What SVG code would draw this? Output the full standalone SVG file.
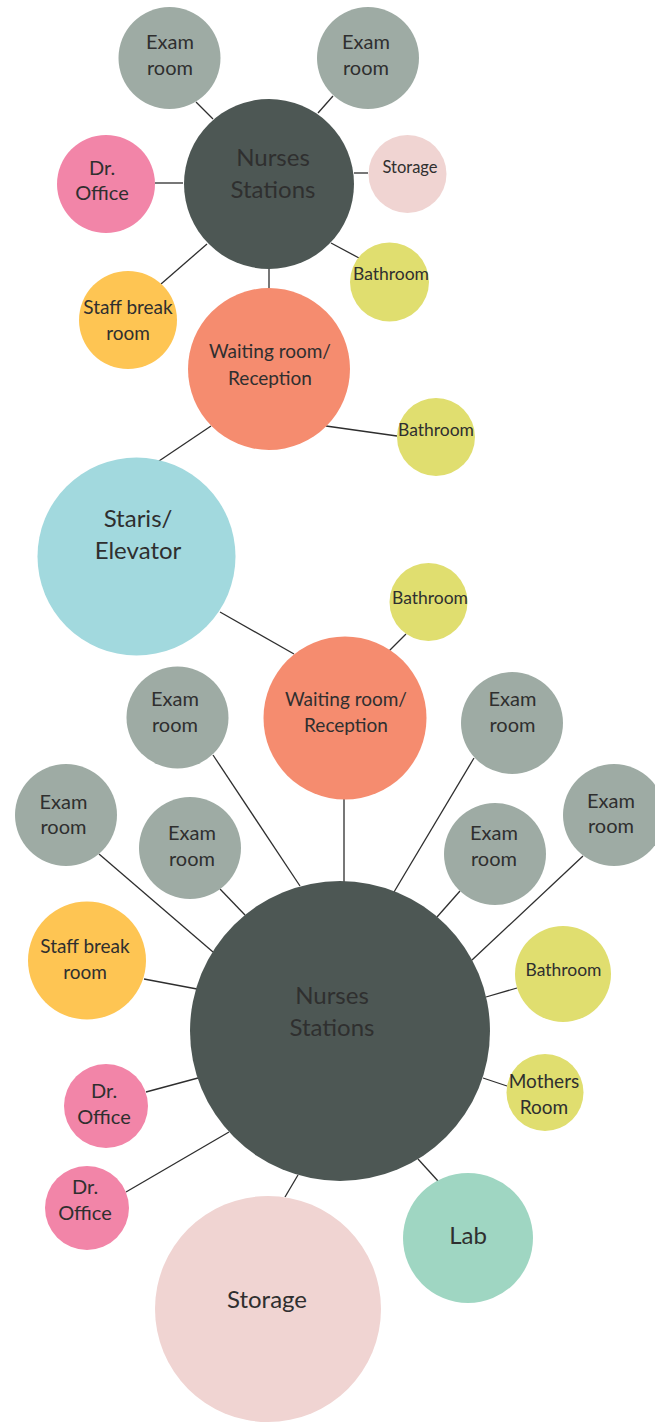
<svg xmlns="http://www.w3.org/2000/svg" width="655" height="1422" viewBox="0 0 655 1422">
<style>
text{font-family:Lato,"Noto Sans",sans-serif;fill:#2f2f2f;text-anchor:middle}
.c-exam{fill:#9eaba4}
.c-nurse{fill:#4d5754}
.c-dr{fill:#f285a8}
.c-stor{fill:#f0d4d2}
.c-bath{fill:#e0de6f}
.c-staff{fill:#fec553}
.c-wait{fill:#f58c6f}
.c-stair{fill:#a2d9de}
.c-lab{fill:#9fd6c2}
.f20{font-size:20px}.f24{font-size:24px}.f16{font-size:16.5px}.fb{font-size:17.5px}.f19{font-size:19px}
#connectors line{stroke:#2e2e2e;stroke-width:1.3}
</style>
<g id="connectors">
<line x1="196" y1="102" x2="213" y2="119"/>
<line x1="333" y1="96" x2="318" y2="113"/>
<line x1="155" y1="183" x2="183" y2="183"/>
<line x1="354" y1="173" x2="368" y2="173"/>
<line x1="331" y1="243" x2="359" y2="258"/>
<line x1="207" y1="244" x2="161" y2="284"/>
<line x1="269" y1="269" x2="269" y2="289"/>
<line x1="326" y1="426" x2="397" y2="436"/>
<line x1="211" y1="426" x2="156" y2="463"/>
<line x1="220" y1="612" x2="294" y2="654"/>
<line x1="389" y1="651" x2="406" y2="634"/>
<line x1="344" y1="798" x2="344" y2="882"/>
<line x1="213" y1="755" x2="300" y2="886"/>
<line x1="474" y1="758" x2="394" y2="892"/>
<line x1="99" y1="854" x2="213" y2="952"/>
<line x1="220" y1="889" x2="245" y2="915"/>
<line x1="460" y1="891" x2="437" y2="917"/>
<line x1="583" y1="856" x2="472" y2="960"/>
<line x1="144" y1="979" x2="197" y2="989"/>
<line x1="517" y1="988" x2="486" y2="997"/>
<line x1="483" y1="1078" x2="507" y2="1086"/>
<line x1="146" y1="1092" x2="198" y2="1078"/>
<line x1="126" y1="1192" x2="229" y2="1132"/>
<line x1="298" y1="1175" x2="285" y2="1197"/>
<line x1="418" y1="1159" x2="438" y2="1181"/>
</g>
<g id="exam-tl"><circle class="c-exam" cx="169.5" cy="58" r="51"/><text class="f20" x="170" y="49">Exam</text><text class="f20" x="170" y="75">room</text></g>
<g id="exam-tr"><circle class="c-exam" cx="368" cy="58" r="51"/><text class="f20" x="366" y="49">Exam</text><text class="f20" x="366" y="75">room</text></g>
<g id="nurses-top"><circle class="c-nurse" cx="269" cy="184" r="85"/><text class="f24" x="273" y="166">Nurses</text><text class="f24" x="273" y="198">Stations</text></g>
<g id="dr-top"><circle class="c-dr" cx="106" cy="184" r="49"/><text class="f20" x="102" y="175">Dr.</text><text class="f20" x="102" y="200">Office</text></g>
<g id="storage-top"><circle class="c-stor" cx="407.5" cy="174" r="39"/><text class="f16" x="410" y="173">Storage</text></g>
<g id="bath-top"><circle class="c-bath" cx="389.5" cy="282" r="39.5"/><text class="fb" x="391" y="280">Bathroom</text></g>
<g id="staff-top"><circle class="c-staff" cx="128" cy="320" r="49"/><text class="f19" x="128" y="314">Staff break</text><text class="f19" x="128" y="340">room</text></g>
<g id="waiting-top"><circle class="c-wait" cx="269" cy="369" r="81"/><text class="f19" x="270" y="358">Waiting room/</text><text class="f19" x="270" y="385">Reception</text></g>
<g id="bath-top2"><circle class="c-bath" cx="436" cy="437" r="39"/><text class="fb" x="436" y="436">Bathroom</text></g>
<g id="stairs"><circle class="c-stair" cx="136.5" cy="556.5" r="99"/><text class="f24" x="138" y="527">Staris/</text><text class="f24" x="138" y="559">Elevator</text></g>
<g id="bath-mid"><circle class="c-bath" cx="428.5" cy="602" r="39"/><text class="fb" x="430" y="604">Bathroom</text></g>
<g id="waiting-bot"><circle class="c-wait" cx="345" cy="718" r="81.5"/><text class="f19" x="346" y="706">Waiting room/</text><text class="f19" x="346" y="732">Reception</text></g>
<g id="exam-1"><circle class="c-exam" cx="177.5" cy="717.5" r="51"/><text class="f20" x="175" y="706">Exam</text><text class="f20" x="175" y="732">room</text></g>
<g id="exam-2"><circle class="c-exam" cx="512" cy="723" r="51"/><text class="f20" x="512.5" y="706">Exam</text><text class="f20" x="512.5" y="732">room</text></g>
<g id="exam-3"><circle class="c-exam" cx="66" cy="815" r="51"/><text class="f20" x="63.5" y="809">Exam</text><text class="f20" x="63.5" y="834">room</text></g>
<g id="exam-4"><circle class="c-exam" cx="190" cy="848" r="51"/><text class="f20" x="192" y="840">Exam</text><text class="f20" x="192" y="866">room</text></g>
<g id="exam-5"><circle class="c-exam" cx="495" cy="854" r="51"/><text class="f20" x="494" y="840">Exam</text><text class="f20" x="494" y="866">room</text></g>
<g id="exam-6"><circle class="c-exam" cx="614" cy="815" r="51"/><text class="f20" x="611" y="808">Exam</text><text class="f20" x="611" y="833">room</text></g>
<g id="staff-bot"><circle class="c-staff" cx="87" cy="960.5" r="59"/><text class="f19" x="85" y="953">Staff break</text><text class="f19" x="85" y="979">room</text></g>
<g id="nurses-bot"><circle class="c-nurse" cx="340" cy="1031" r="150"/><text class="f24" x="332" y="1004">Nurses</text><text class="f24" x="332" y="1036">Stations</text></g>
<g id="bath-bot"><circle class="c-bath" cx="563" cy="974" r="48"/><text class="fb" x="563.5" y="976">Bathroom</text></g>
<g id="mothers"><circle class="c-bath" cx="545" cy="1092.5" r="38.5"/><text class="f19" x="544" y="1088">Mothers</text><text class="f19" x="544" y="1114">Room</text></g>
<g id="dr-bot1"><circle class="c-dr" cx="106" cy="1106" r="42"/><text class="f20" x="104" y="1098">Dr.</text><text class="f20" x="104" y="1124">Office</text></g>
<g id="dr-bot2"><circle class="c-dr" cx="87" cy="1208" r="42"/><text class="f20" x="85" y="1194">Dr.</text><text class="f20" x="85" y="1220">Office</text></g>
<g id="lab"><circle class="c-lab" cx="468" cy="1238" r="65"/><text class="f24" x="468" y="1244">Lab</text></g>
<g id="storage-bot"><circle class="c-stor" cx="268" cy="1309" r="113"/><text class="f24" x="267" y="1308">Storage</text></g>
</svg>
